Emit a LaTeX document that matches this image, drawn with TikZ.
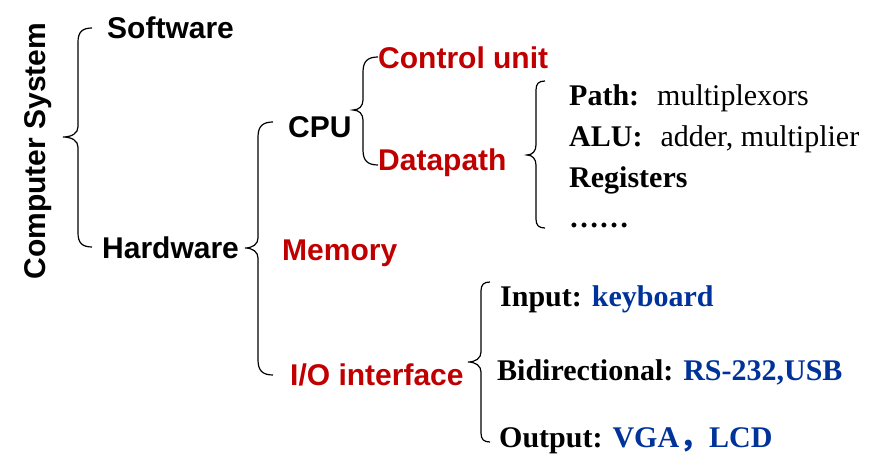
\documentclass[tikz,border=0pt]{standalone}
\usepackage{fontspec}
\setmainfont{Liberation Serif}
\setsansfont{Liberation Sans}
\newfontfamily\cjk{Noto Sans CJK SC}
\definecolor{hired}{RGB}{192,0,0}
\definecolor{hiblue}{RGB}{0,51,153}
\newcommand{\grpbrace}[6]{%
  \draw[bracestyle] ({#1+#5},#2) .. controls ({#1+0.3*#5},#2) and (#1,{#2+0.3*#5}) .. (#1,{#2+#5})
   -- (#1,{#4-10}) .. controls (#1,{#4-4}) and ({#1-0.4*#6},#4) .. ({#1-#6},#4)
   .. controls ({#1-0.4*#6},#4) and (#1,{#4+4}) .. (#1,{#4+10})
   -- (#1,{#3-#5}) .. controls (#1,{#3-0.3*#5}) and ({#1+0.3*#5},#3) .. ({#1+#5},#3);}
\begin{document}
\begin{tikzpicture}[x=1pt,y=-1pt,
  bracestyle/.style={draw=black,line width=1.2pt},
  sansbf/.style={inner sep=0pt,font=\sffamily\bfseries\fontsize{30}{36}\selectfont},
  serifbf/.style={inner sep=0pt,anchor=base west,font=\bfseries\fontsize{30}{36}\selectfont},
  redtxt/.style={sansbf,text=hired,anchor=base west},
  blktxt/.style={sansbf,text=black,anchor=base west}]
\useasboundingbox (0,0) rectangle (878,454);
% texts
\node[sansbf,rotate=90,anchor=base] (cs) at (45,151) {Computer System};
\node[blktxt] (sw) at (107,39) {Software};
\node[blktxt] (hw) at (102,259) {Hardware};
\node[blktxt] (cpu) at (288,138) {CPU};
\node[redtxt] (mem) at (282,261) {Memory};
\node[redtxt] (io) at (290,385) {I/O interface};
\node[redtxt] (cu) at (378,69) {Control unit};
\node[redtxt] (dp) at (378,171) {Datapath};
\node[serifbf] (path) at (569,106) {Path:\hspace{0.6em}\mdseries multiplexors};
\node[serifbf] (alu) at (569,147) {ALU:\hspace{0.6em}\mdseries adder, multiplier};
\node[serifbf] (reg) at (569,188) {Registers};
\node[serifbf] (dots) at (569,228) {……};
\node[serifbf] (inp) at (500,307) {Input: \textcolor{hiblue}{keyboard}};
\node[serifbf] (bid) at (497,380) {Bidirectional: \textcolor{hiblue}{RS-232,USB}};
\node[serifbf] (outp) at (499,447) {Output: \textcolor{hiblue}{VGA{\cjk ，}LCD}};
% braces: x of stem, top, bottom, tip y, hook width, tip width
\grpbrace{78}{28}{247}{137}{14}{15}
\grpbrace{258}{122}{375}{248}{15}{13}
\grpbrace{363}{57}{165}{110}{15}{10}
\grpbrace{536}{81}{228}{155}{9}{9}
\grpbrace{481}{282}{442}{362}{9}{13}
\end{tikzpicture}
\end{document}
